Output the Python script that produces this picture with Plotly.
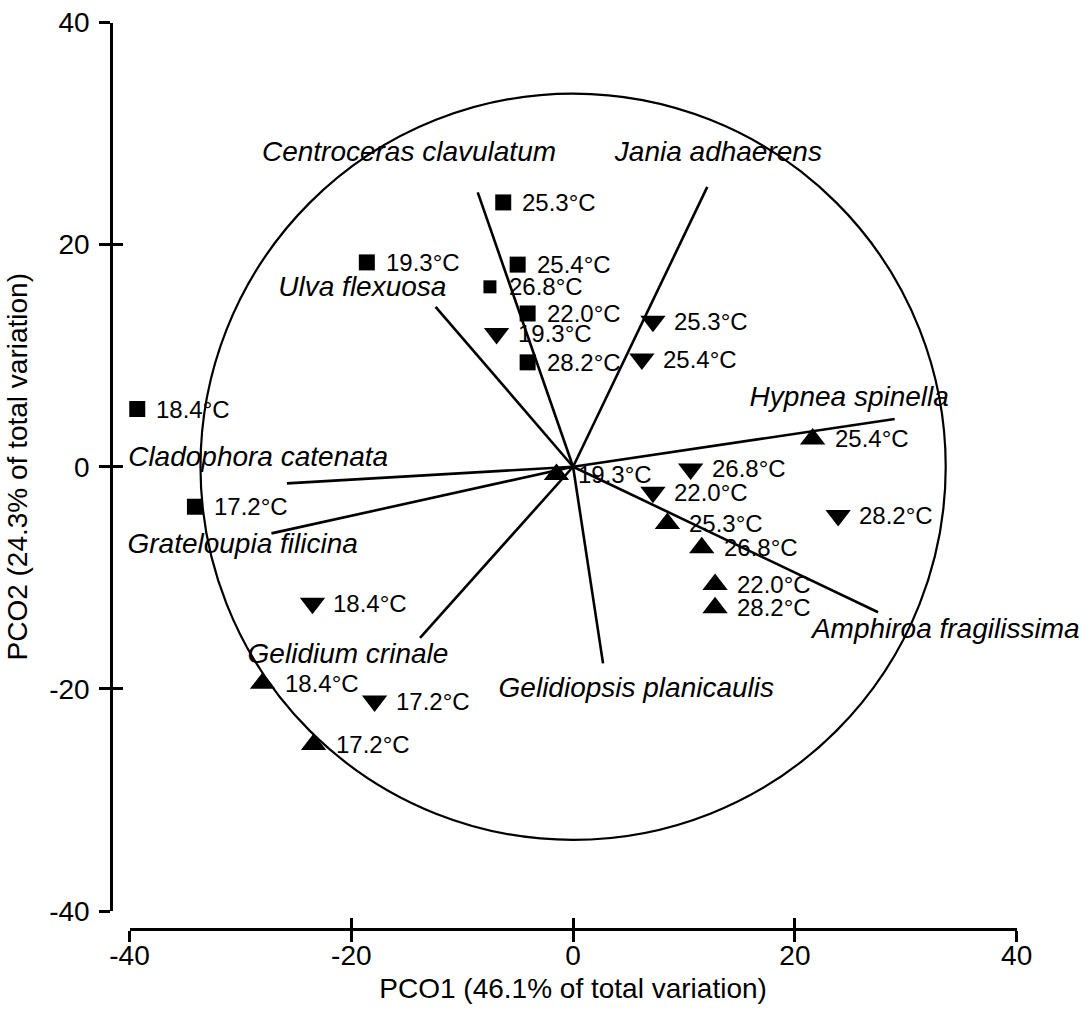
import plotly.graph_objects as go

# ---------------- data ----------------
# samples shown as squares
sq_x = [-6.3, -18.6, -5.0, -7.5, -4.1, -4.1, -39.3, -34.1]
sq_y = [23.8, 18.4, 18.2, 16.2, 13.8, 9.4, 5.2, -3.6]
sq_t = ["25.3°C", "19.3°C", "25.4°C", "26.8°C", "22.0°C", "28.2°C", "18.4°C", "17.2°C"]

# samples shown as down-triangles
dn_x = [-6.9, 7.2, 6.2, 10.6, 7.2, 23.9, -23.5, -17.9]
dn_y = [12.0, 13.1, 9.7, -0.2, -2.3, -4.4, -12.3, -21.1]
dn_t = ["19.3°C", "25.3°C", "25.4°C", "26.8°C", "22.0°C", "28.2°C", "18.4°C", "17.2°C"]

# samples shown as up-triangles
up_x = [-1.5, 21.6, 8.5, 11.6, 12.8, 12.8, -28.0, -23.4]
up_y = [-0.7, 2.5, -5.1, -7.3, -10.6, -12.7, -19.5, -25.0]
up_t = ["19.3°C", "25.4°C", "25.3°C", "26.8°C", "22.0°C", "28.2°C", "18.4°C", "17.2°C"]

# species vectors (end points, origin at 0,0)
species = ["Centroceras clavulatum", "Jania adhaerens", "Ulva flexuosa", "Hypnea spinella",
           "Cladophora catenata", "Grateloupia filicina", "Gelidium crinale",
           "Gelidiopsis planicaulis", "Amphiroa fragilissima"]
vec_x = [-8.6, 12.1, -12.4, 29.0, -25.8, -27.2, -13.8, 2.7, 27.5]
vec_y = [24.7, 25.2, 14.4, 4.3, -1.5, -6.0, -15.4, -17.7, -13.1]
# species label centres
lab_x = [-14.8, 13.1, -19.0, 24.9, -28.4, -29.8, -20.3, 5.7, 33.6]
lab_y = [28.2, 28.2, 16.0, 6.1, 0.7, -7.1, -17.0, -20.1, -14.8]

circle_r = 33.6
tick_vals = [-40, -20, 0, 20, 40]
tick_text = ["-40", "-20", "0", "20", "40"]
x_title = "PCO1 (46.1% of total variation)"
y_title = "PCO2 (24.3% of total variation)"

# ---------------- figure ----------------
FONT = "Liberation Sans, Arial, sans-serif"
fig = go.Figure()

# vectors
vx, vy = [], []
for ex, ey in zip(vec_x, vec_y):
    vx += [0, ex, None]
    vy += [0, ey, None]
fig.add_trace(go.Scatter(x=vx, y=vy, mode="lines", line=dict(color="black", width=2.6),
                         hoverinfo="skip", showlegend=False))

sq_sizes = [16, 16, 16, 13, 16, 16, 16, 16]
fig.add_trace(go.Scatter(x=sq_x, y=sq_y, mode="markers", cliponaxis=False,
                         marker=dict(symbol="square", size=sq_sizes, color="black", opacity=1,
                                     line=dict(width=0)),
                         showlegend=False))
fig.add_trace(go.Scatter(x=dn_x, y=dn_y, mode="markers", cliponaxis=False,
                         marker=dict(symbol="triangle-down", size=22, color="black", opacity=1,
                                     line=dict(width=0)),
                         showlegend=False))
fig.add_trace(go.Scatter(x=up_x, y=up_y, mode="markers", cliponaxis=False,
                         marker=dict(symbol="triangle-up", size=22, color="black", opacity=1,
                                     line=dict(width=0)),
                         showlegend=False))

# species names
fig.add_trace(go.Scatter(x=lab_x, y=lab_y, mode="text", text=species, cliponaxis=False,
                         textposition="middle center",
                         textfont=dict(family=FONT, size=28, color="black", style="italic"),
                         hoverinfo="skip", showlegend=False))

# temperature labels
for xs, ys, ts, sh in [(sq_x, sq_y, sq_t, 17), (dn_x, dn_y, dn_t, 19), (up_x, up_y, up_t, 20)]:
    for x, y, t in zip(xs, ys, ts):
        fig.add_annotation(x=x, y=y, text=t, showarrow=False, xanchor="left", yanchor="middle",
                           xshift=sh, font=dict(family=FONT, size=24, color="black"))

# dummy trace for overlay axes (crossing ticks)
fig.add_trace(go.Scatter(x=[None], y=[None], xaxis="x2", yaxis="y2", showlegend=False,
                         hoverinfo="skip"))

# correlation circle
fig.add_shape(type="circle", xref="x", yref="y", x0=-circle_r, y0=-circle_r,
              x1=circle_r, y1=circle_r, line=dict(color="black", width=2.2))

XD = [129.5 / 1089, 1016.7 / 1089]
YD = [(1012 - 911) / 1012, (1012 - 22.5) / 1012]
XPOS = (1012 - 929) / 1012
YPOS = 111 / 1089

common = dict(range=[-40, 40], tickvals=tick_vals, ticktext=tick_text, showgrid=False,
              zeroline=False, tickcolor="black", tickwidth=2.5, ticklen=11)

fig.update_layout(
    width=1089, height=1012,
    margin=dict(l=0, r=0, t=0, b=0, autoexpand=False),
    paper_bgcolor="white", plot_bgcolor="white",
    font=dict(family=FONT, color="black"),
    xaxis=dict(domain=XD, anchor="free", position=XPOS, showline=True, linecolor="black",
               linewidth=2.5, ticks="outside", tickfont=dict(size=28, family=FONT),
               ticklabelstandoff=-10,
               title=dict(text=x_title, font=dict(size=28, family=FONT), standoff=8),
               automargin=False, **common),
    yaxis=dict(domain=YD, anchor="free", position=YPOS, showline=True, linecolor="black",
               linewidth=2.5, ticks="outside", tickfont=dict(size=28, family=FONT),
               ticklabelstandoff=4,
               title=dict(text=y_title, font=dict(size=28, family=FONT), standoff=12),
               automargin=False, **common),
    xaxis2=dict(domain=XD, anchor="free", position=XPOS, overlaying="x", ticks="inside",
                showticklabels=False, showline=False, automargin=False, **common),
    yaxis2=dict(domain=YD, anchor="free", position=YPOS, overlaying="y", ticks="inside",
                showticklabels=False, showline=False, automargin=False, **common),
)

fig.write_html("out.html")
